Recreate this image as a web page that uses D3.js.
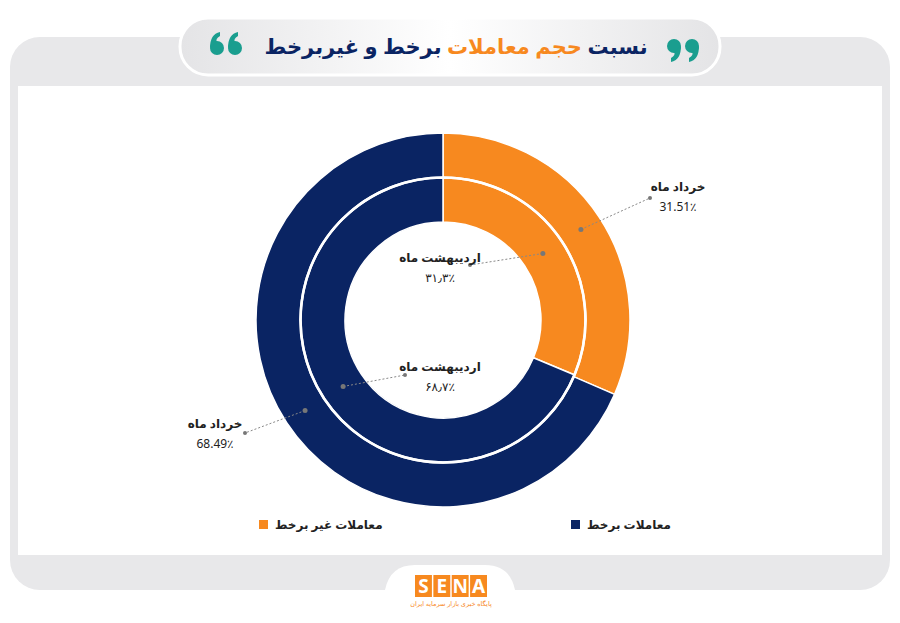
<!DOCTYPE html>
<html><head><meta charset="utf-8">
<script src="https://cdn.jsdelivr.net/npm/d3@7"></script>
<style>body{margin:0;background:#fff;font-family:"Noto Sans","DejaVu Sans",sans-serif}</style>
</head><body><div id="chart"></div>
<script>
// data
var series = ['معاملات برخط', 'معاملات غیر برخط'];
var colors = ['#0a2463', '#f7891f'];
var outerVals = [68.49, 31.51];   // خرداد ماه
var innerVals = [68.7, 31.3];     // اردیبهشت ماه
var outerLabels = ['68.49٪', '31.51٪'];
var innerLabels = ['۶۸٫۷٪', '۳۱٫۳٪'];

var W = 900, H = 623, cx = 443, cy = 320;
var svg = d3.select('#chart').append('svg').attr('width', W).attr('height', H);

var defs = svg.append('defs');
var g1 = defs.append('linearGradient').attr('id', 'pill').attr('x1', 0).attr('x2', 1);
g1.append('stop').attr('offset', 0).attr('stop-color', '#e4e4e6');
g1.append('stop').attr('offset', 0.5).attr('stop-color', '#ffffff');
g1.append('stop').attr('offset', 1).attr('stop-color', '#e4e4e6');

// frame
svg.append('rect').attr('x', 10).attr('y', 37).attr('width', 880).attr('height', 553).attr('rx', 30).attr('fill', '#e8e8ea');
svg.append('rect').attr('x', 18).attr('y', 86).attr('width', 864).attr('height', 469).attr('fill', '#fff');
// title pill
svg.append('rect').attr('x', 180).attr('y', 18).attr('width', 540).attr('height', 57).attr('rx', 28).attr('fill', 'url(#pill)').attr('stroke', '#fff').attr('stroke-width', 3);
var title = svg.append('text').attr('x', 456).attr('y', 54).attr('text-anchor', 'middle').attr('direction', 'rtl')
  .attr('font-size', 21).attr('font-weight', 900).attr('fill', '#0a2463');
title.append('tspan').text('نسبت ');
title.append('tspan').attr('fill', '#f7891f').text('حجم معاملات');
title.append('tspan').text(' برخط و غیربرخط');
// quote marks
function quote(x, y, flip) {
  var q = svg.append('g').attr('transform', 'translate(' + x + ',' + y + ')' + (flip ? ' rotate(180)' : ''));
  [-9, 9].forEach(function (dx) {
    q.append('circle').attr('cx', dx).attr('cy', 4).attr('r', 7).attr('fill', '#1a9e8f');
    q.append('path').attr('d', 'M' + (dx - 7) + ',4 Q' + (dx - 7) + ',-10 ' + (dx + 3) + ',-12 L' + (dx + 3) + ',-8 Q' + (dx - 2) + ',-5 ' + (dx) + ',-2 Z').attr('fill', '#1a9e8f');
  });
}
quote(226, 44, false);
quote(683, 50, true);

// logo tab
svg.append('path').attr('d', 'M385,623 L385,590 Q390,565 415,565 L485,565 Q510,565 515,590 L515,623 Z').attr('fill', '#fff');
var letters = ['S', 'E', 'N', 'A'];
var lx = d3.scaleBand().domain(letters).range([415, 487]).paddingInner(0.08);
letters.forEach(function (l) {
  svg.append('rect').attr('x', lx(l)).attr('y', 575).attr('width', lx.bandwidth()).attr('height', 22).attr('fill', '#f7891f');
  svg.append('text').attr('x', lx(l) + lx.bandwidth() / 2).attr('y', 593).attr('text-anchor', 'middle').attr('font-size', 19).attr('font-weight', 700).attr('fill', '#fff').text(l);
});
svg.append('text').attr('x', 451).attr('y', 606).attr('text-anchor', 'middle').attr('font-size', 6.5).attr('fill', '#f7891f').attr('direction', 'rtl').text('پایگاه خبری بازار سرمایه ایران');

// donut
var pie = d3.pie().sort(null).value(function (d) { return d; });
var outerArcs = pie(outerVals.slice().reverse());
var innerArcs = pie(innerVals.slice().reverse());
var arcO = d3.arc().innerRadius(143).outerRadius(187);
var arcI = d3.arc().innerRadius(98).outerRadius(142);
var g = svg.append('g').attr('transform', 'translate(' + cx + ',' + cy + ')');
var col = [colors[1], colors[0]];
g.selectAll('.o').data(outerArcs).enter().append('path').attr('d', arcO).attr('fill', function (d, i) { return col[i]; }).attr('stroke', '#fff').attr('stroke-width', 1.5);
g.selectAll('.i').data(innerArcs).enter().append('path').attr('d', arcI).attr('fill', function (d, i) { return col[i]; }).attr('stroke', '#fff').attr('stroke-width', 1.5);
g.append('circle').attr('r', 142.5).attr('fill', 'none').attr('stroke', '#fff').attr('stroke-width', 2.5);

// labels
function callout(arcFn, a, tx, ty, anchorX, anchorY, name, val) {
  var p = arcFn.centroid(a);
  var px = cx + p[0], py = cy + p[1];
  svg.append('line').attr('x1', px).attr('y1', py).attr('x2', anchorX).attr('y2', anchorY)
    .attr('stroke', '#888').attr('stroke-dasharray', '2,2').attr('stroke-width', 1);
  svg.append('circle').attr('cx', px).attr('cy', py).attr('r', 2.5).attr('fill', '#777');
  svg.append('circle').attr('cx', anchorX).attr('cy', anchorY).attr('r', 2).attr('fill', '#777');
  svg.append('text').attr('x', tx).attr('y', ty).attr('text-anchor', 'middle').attr('direction', 'rtl').attr('font-size', 12).attr('font-weight', 700).attr('fill', '#222').text(name);
  svg.append('text').attr('x', tx).attr('y', ty + 20).attr('text-anchor', 'middle').attr('font-size', 12).attr('fill', '#222').text(val);
}
callout(arcO, outerArcs[0], 678, 191, 650, 198, 'خرداد ماه', outerLabels[1]);
callout(arcO, outerArcs[1], 215, 428, 245, 433, 'خرداد ماه', outerLabels[0]);
callout(arcI, innerArcs[0], 440, 262, 470, 265, 'اردیبهشت ماه', innerLabels[1]);
callout(arcI, innerArcs[1], 440, 371, 405, 375, 'اردیبهشت ماه', innerLabels[0]);

// legend
var legX = [571, 259];
series.forEach(function (s, i) {
  svg.append('rect').attr('x', legX[i]).attr('y', 520).attr('width', 9).attr('height', 9).attr('fill', colors[i]);
  svg.append('text').attr('x', legX[i] + 16).attr('y', 529).attr('direction', 'rtl').attr('text-anchor', 'end')
    .attr('font-size', 12).attr('font-weight', 700).attr('fill', '#222').text(s);
});
</script></body></html>
